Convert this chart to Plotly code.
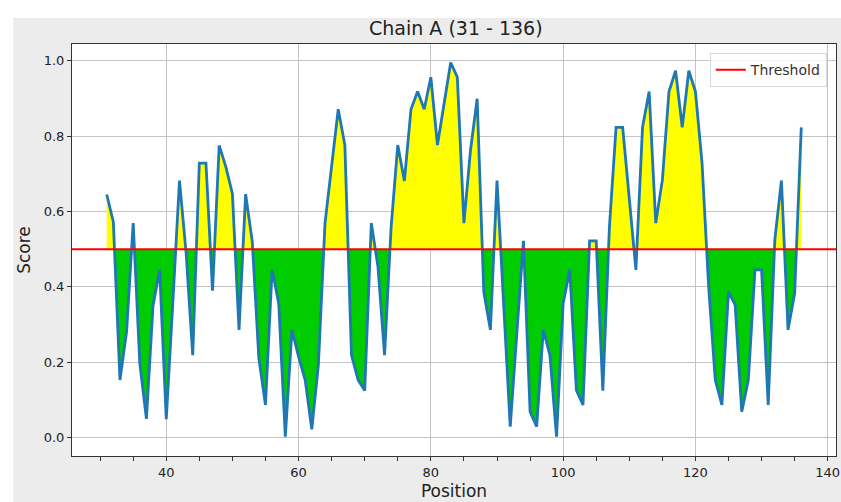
import plotly.graph_objects as go

positions = list(range(31, 137))
scores = [
    0.645, 0.572, 0.153, 0.281, 0.569, 0.197, 0.050, 0.350, 0.445, 0.049,
    0.360, 0.682, 0.490, 0.219, 0.728, 0.728, 0.390, 0.775, 0.719, 0.647,
    0.286, 0.646, 0.520, 0.210, 0.087, 0.446, 0.356, 0.003, 0.286, 0.215,
    0.153, 0.022, 0.193, 0.569, 0.720, 0.871, 0.776, 0.219, 0.153, 0.125,
    0.569, 0.454, 0.219, 0.560, 0.776, 0.681, 0.871, 0.918, 0.871, 0.956,
    0.776, 0.887, 0.995, 0.956, 0.569, 0.763, 0.899, 0.387, 0.286, 0.682,
    0.356, 0.029, 0.277, 0.522, 0.069, 0.029, 0.286, 0.219, 0.003, 0.356,
    0.445, 0.126, 0.087, 0.522, 0.522, 0.125, 0.560, 0.823, 0.823, 0.640,
    0.445, 0.823, 0.918, 0.569, 0.683, 0.918, 0.973, 0.823, 0.973, 0.918,
    0.728, 0.400, 0.153, 0.087, 0.387, 0.352, 0.069, 0.153, 0.445, 0.445,
    0.087, 0.524, 0.682, 0.286, 0.383, 0.823,
]
threshold = 0.5
title = "Chain A (31 - 136)"

# insert threshold crossings so the fills meet the curve exactly
xa, ya = [], []
for i in range(len(positions)):
    xa.append(positions[i]); ya.append(scores[i])
    if i + 1 < len(positions):
        y0, y1 = scores[i] - threshold, scores[i + 1] - threshold
        if y0 * y1 < 0:
            t = y0 / (y0 - y1)
            xa.append(positions[i] + t * (positions[i + 1] - positions[i]))
            ya.append(threshold)

upper = [max(v, threshold) for v in ya]
lower = [min(v, threshold) for v in ya]
base = [threshold] * len(xa)

FONT = "DejaVu Sans"
fig = go.Figure()
fig.add_trace(go.Scatter(x=xa, y=base, mode="lines", line=dict(width=0), showlegend=False, hoverinfo="skip"))
fig.add_trace(go.Scatter(x=xa, y=lower, mode="lines", line=dict(width=0), fill="tonexty",
                         fillcolor="#00cc00", showlegend=False, hoverinfo="skip"))
fig.add_trace(go.Scatter(x=xa, y=base, mode="lines", line=dict(width=0), showlegend=False, hoverinfo="skip"))
fig.add_trace(go.Scatter(x=xa, y=upper, mode="lines", line=dict(width=0), fill="tonexty",
                         fillcolor="#ffff00", showlegend=False, hoverinfo="skip"))
fig.add_trace(go.Scatter(x=positions, y=scores, mode="lines", line=dict(color="#1f77b4", width=2.8),
                         showlegend=False))
fig.add_trace(go.Scatter(x=[25.75, 141.25], y=[threshold, threshold], mode="lines",
                         line=dict(color="#ff0000", width=2), name="Threshold"))

fig.update_layout(
    width=841, height=502,
    margin=dict(l=72, r=1, t=44, b=46),
    paper_bgcolor="white", plot_bgcolor="white",
    font=dict(family=FONT, size=13, color="#222222"),
    title=dict(text=title, x=0.542, xanchor="center", y=1 - 28 / 502, yanchor="middle",
               font=dict(family=FONT, size=19, color="#222222")),
    legend=dict(x=0.988, xanchor="right", y=0.978, yanchor="top", bgcolor="rgba(255,255,255,0.85)",
                bordercolor="#d8d8d8", borderwidth=1, font=dict(family=FONT, size=14, color="#333333"),
                itemwidth=30),
    shapes=[
        dict(type="rect", xref="paper", yref="paper", x0=-0.0768, x1=1.01, y0=-0.12, y1=1.063,
             fillcolor="#ececec", line=dict(width=0), layer="below"),
        dict(type="rect", xref="paper", yref="paper", x0=0, x1=1, y0=0, y1=1,
             fillcolor="white", line=dict(width=0), layer="below"),
    ],
)
fig.update_xaxes(
    range=[25.75, 141.25], dtick=20, tick0=0, showgrid=True, gridcolor="#c4c4c4", gridwidth=1,
    showline=True, linecolor="#333333", linewidth=1, mirror=True, zeroline=False,
    ticks="outside", ticklen=4, tickcolor="#333333", ticklabeloverflow="allow",
    minor=dict(dtick=5, tick0=0, ticks="outside", ticklen=4, tickcolor="#333333", showgrid=False),
    title=dict(text="Position", font=dict(family=FONT, size=17, color="#222222"), standoff=6),
)
fig.update_yaxes(
    range=[-0.0485, 1.044], dtick=0.2, tick0=0, tickformat=".1f", showgrid=True, gridcolor="#c4c4c4",
    gridwidth=1, showline=True, linecolor="#333333", linewidth=1, mirror=True, zeroline=False,
    ticks="outside", ticklen=4, tickcolor="#333333",
    title=dict(text="Score", font=dict(family=FONT, size=17, color="#222222"), standoff=8),
)

fig.write_html("out.html", config={"displayModeBar": False},
               post_script="document.body.style.margin='0';document.body.style.padding='0';")
